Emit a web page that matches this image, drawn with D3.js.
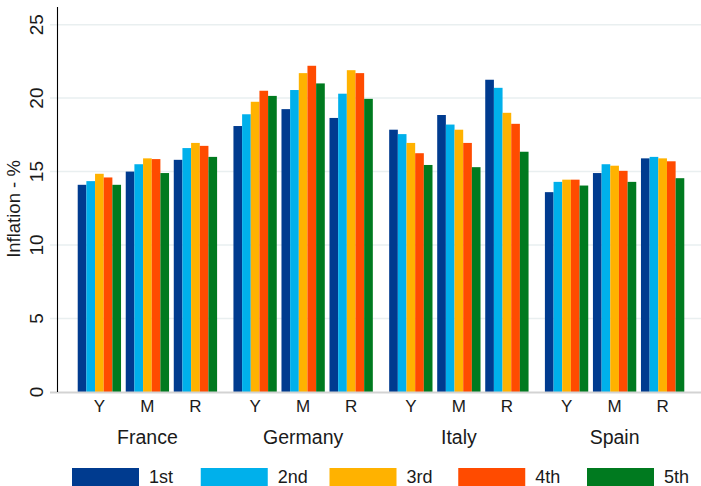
<!DOCTYPE html>
<html>
<head>
<meta charset="utf-8">
<script src="https://cdn.jsdelivr.net/npm/d3@7"></script>
<style>
  html, body { margin: 0; padding: 0; background: #fff; }
  svg { display: block; }
  text { font-family: "Liberation Sans", Arial, Helvetica, sans-serif; fill: #1a1a1a; }
</style>
</head>
<body>
<svg id="chart" width="701" height="486"></svg>
<script>
// Categories
const countries = ["France", "Germany", "Italy", "Spain"];
const measures = ["Y", "M", "R"];
const quintiles = ["1st", "2nd", "3rd", "4th", "5th"];
const quintileColors = ["#003b8f", "#00b0eb", "#ffb200", "#ff4b00", "#007a1f"];
const yTicks = [0, 5, 10, 15, 20, 25];

// Inflation (%) by measure (rows: Y, M, R) and quintile (columns: 1st..5th)
const france  = [[14.1, 14.35, 14.85, 14.6, 14.1],
                 [15.0, 15.5, 15.9, 15.85, 14.9],
                 [15.8, 16.6, 16.95, 16.75, 16.0]];
const germany = [[18.1, 18.9, 19.75, 20.5, 20.15],
                 [19.25, 20.55, 21.7, 22.2, 21.0],
                 [18.65, 20.3, 21.9, 21.7, 19.95]];
const italy   = [[17.85, 17.55, 16.95, 16.25, 15.45],
                 [18.85, 18.2, 17.85, 16.95, 15.3],
                 [21.25, 20.7, 19.0, 18.25, 16.35]];
const spain   = [[13.6, 14.3, 14.45, 14.45, 14.05],
                 [14.9, 15.5, 15.4, 15.05, 14.3],
                 [15.9, 16.0, 15.9, 15.7, 14.55]];

const seriesByCountry = { France: france, Germany: germany, Italy: italy, Spain: spain };

const svg = d3.select("#chart");

const axisX = 57;
const y = d3.scaleLinear().domain([0, 26.2]).range([392, 7]);

const xCountry = d3.scaleBand().domain(countries).range([axisX, 705])
  .paddingInner(0.105).paddingOuter(0.133);
const xMeasure = d3.scaleBand().domain(measures).range([0, xCountry.bandwidth()])
  .paddingInner(0.098);
const xQuint = d3.scaleBand().domain(quintiles).range([0, xMeasure.bandwidth()]);
const color = d3.scaleOrdinal().domain(quintiles).range(quintileColors);

// Gridlines with short ticks left of the axis
svg.append("g").selectAll("line").data(yTicks.filter(d => d > 0)).join("line")
  .attr("x1", 50).attr("x2", 701)
  .attr("y1", d => y(d)).attr("y2", d => y(d))
  .attr("stroke", "#e9eff0").attr("stroke-width", 1.5);

// Bars
const rows = [];
countries.forEach(c => measures.forEach((m, mi) => quintiles.forEach((q, qi) => {
  rows.push({ country: c, measure: m, quintile: q, value: seriesByCountry[c][mi][qi] });
})));

svg.append("g").selectAll("rect").data(rows).join("rect")
  .attr("x", d => xCountry(d.country) + xMeasure(d.measure) + xQuint(d.quintile))
  .attr("width", xQuint.bandwidth())
  .attr("y", d => y(d.value))
  .attr("height", d => y(0) - y(d.value))
  .attr("fill", d => color(d.quintile));

// Baseline
svg.append("line")
  .attr("x1", 50).attr("x2", 701).attr("y1", y(0) + 0.5).attr("y2", y(0) + 0.5)
  .attr("stroke", "#d3d3d3").attr("stroke-width", 2);

// Y axis line
svg.append("line")
  .attr("x1", axisX + 0.5).attr("x2", axisX + 0.5).attr("y1", y(26.2)).attr("y2", y(0))
  .attr("stroke", "#000").attr("stroke-width", 1.1);

// Y tick labels (rotated)
svg.append("g").selectAll("text").data(yTicks).join("text")
  .attr("transform", d => `translate(43,${y(d)}) rotate(-90)`)
  .attr("text-anchor", "middle")
  .style("font-size", "19px")
  .text(d => d);

// Y axis title
svg.append("text")
  .attr("transform", "translate(20,209) rotate(-90)")
  .attr("text-anchor", "middle")
  .style("font-size", "18.5px")
  .text("Inflation - %");

// Measure labels
const measureLabels = [];
countries.forEach(c => measures.forEach(m => measureLabels.push({ c, m })));
svg.append("g").selectAll("text").data(measureLabels).join("text")
  .attr("x", d => xCountry(d.c) + xMeasure(d.m) + xMeasure.bandwidth() / 2)
  .attr("y", 412)
  .attr("text-anchor", "middle")
  .style("font-size", "17px")
  .text(d => d.m);

// Country labels
svg.append("g").selectAll("text").data(countries).join("text")
  .attr("x", d => xCountry(d) + xCountry.bandwidth() / 2)
  .attr("y", 444)
  .attr("text-anchor", "middle")
  .style("font-size", "19.5px")
  .text(d => d);

// Legend
const legendX = d3.scalePoint().domain(quintiles).range([72, 587]);
const legend = svg.append("g").selectAll("g").data(quintiles).join("g")
  .attr("transform", d => `translate(${legendX(d)},468)`);
legend.append("rect")
  .attr("width", 67).attr("height", 24)
  .attr("fill", d => color(d));
legend.append("text")
  .attr("x", 77).attr("y", 14.5)
  .style("font-size", "18px")
  .text(d => d);
</script>
</body>
</html>
